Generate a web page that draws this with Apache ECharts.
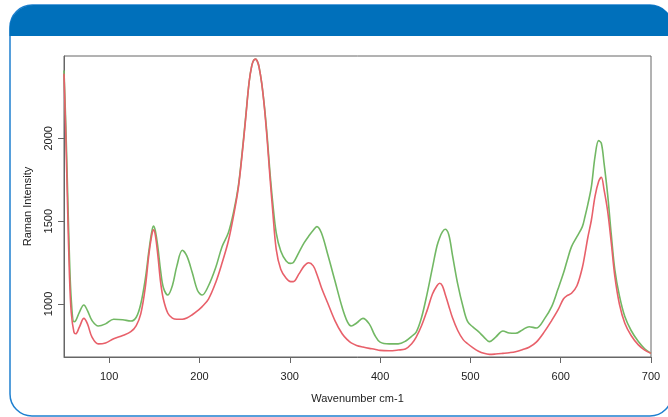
<!DOCTYPE html>
<html>
<head>
<meta charset="utf-8">
<script src="https://cdn.jsdelivr.net/npm/echarts@6/dist/echarts.min.js"></script>
<style>
html,body{margin:0;padding:0;background:#fff;}
#chart{width:668px;height:417px;}
</style>
</head>
<body>
<div id="chart"></div>
<script>
const wavenumber = [
  50,52,54,56,58,61,63,67,72,76,
  81,88,96,105,115,124,130,135,140,144,
  147,149,151,154,157,160,165,170,175,181,
  186,192,198,203,210,218,225,232,238,243,
  247,251,255,258,260,262,264,266,269,272,
  275,278,281,285,290,296,301,304,310,316,
  321,326,330,335,342,350,358,364,368,374,
  381,388,394,400,410,420,428,435,440,446,
  452,458,463,466,469,472,476,480,486,492,
  497,503,509,515,521,528,536,543,550,558,
  565,573,582,590,597,603,607,612,618,624,
  627,630,634,638,642,645,648,652,656,660,
  665,671,678,686,693,700
];
const greenIntensity = [
  2410,2080,1680,1290,1030,893,900,950,994,960,
  900,867,880,908,905,897,920,1000,1150,1320,
  1430,1471,1445,1340,1200,1100,1054,1110,1230,1324,
  1290,1190,1080,1054,1110,1220,1346,1430,1560,1710,
  1900,2120,2340,2440,2470,2478,2466,2430,2330,2190,
  2010,1800,1620,1430,1320,1260,1245,1250,1310,1370,
  1410,1445,1467,1430,1300,1140,980,890,867,885,
  913,880,813,770,759,759,775,805,830,920,
  1060,1220,1350,1400,1435,1451,1420,1300,1120,980,
  893,860,833,800,773,800,837,825,823,845,
  863,855,910,984,1090,1185,1260,1346,1406,1467,
  1530,1600,1708,1889,1986,1970,1850,1660,1420,1205,
  1050,924,840,773,730,702
];
const redIntensity = [
  2390,2020,1580,1180,950,830,820,860,913,880,
  800,759,765,790,810,833,870,940,1100,1300,
  1410,1448,1420,1290,1130,1030,944,915,908,908,
  915,935,960,984,1030,1130,1247,1380,1540,1700,
  1890,2110,2340,2440,2470,2478,2466,2430,2330,2180,
  1990,1770,1570,1330,1210,1155,1135,1135,1180,1230,
  1249,1230,1180,1100,1006,900,820,783,765,750,
  740,732,727,720,718,722,728,760,800,870,
  960,1060,1110,1125,1110,1060,990,920,840,785,
  760,735,715,702,696,698,702,706,712,725,
  739,770,833,900,964,1030,1050,1065,1110,1220,
  1306,1400,1507,1650,1740,1765,1690,1560,1370,1165,
  1000,884,810,753,722,702
];
const xTicks = [100,200,300,400,500,600,700];
const yTicks = [1000,1500,2000];

const pair = (ys) => wavenumber.map((x, i) => [x, ys[i]]);

const chart = echarts.init(document.getElementById('chart'), null, {renderer: 'canvas'});
const font = 'Liberation Sans, Arial, Helvetica, sans-serif';
chart.setOption({
  animation: false,
  backgroundColor: '#fff',
  graphic: [
    {
      type: 'rect', z: -10,
      shape: {x: 10, y: 5, width: 662, height: 411, r: 22},
      style: {fill: '#fff', stroke: '#1f80d0', lineWidth: 1.5}
    },
    {
      type: 'rect', z: -9,
      shape: {x: 9.5, y: 5, width: 663, height: 31, r: [24, 22, 0, 0]},
      style: {fill: '#0070bb'}
    }
  ],
  grid: {
    left: 64, right: 17, top: 56, bottom: 60,
    show: true, borderColor: '#666', borderWidth: 1, backgroundColor: 'transparent'
  },
  xAxis: {
    type: 'value', min: 50, max: 700,
    name: 'Wavenumber cm-1', nameLocation: 'middle', nameGap: 36,
    nameTextStyle: {fontFamily: font, fontSize: 11, color: '#222'},
    axisLine: {show: true, lineStyle: {color: '#666', width: 1}},
    axisTick: {show: true, customValues: xTicks, length: 6, lineStyle: {color: '#666'}},
    axisLabel: {customValues: xTicks, margin: 14, fontFamily: font, fontSize: 11, color: '#222',
      formatter: (v) => String(v)},
    splitLine: {show: false}
  },
  yAxis: {
    type: 'value', min: 680, max: 2497,
    name: 'Raman Intensity', nameLocation: 'middle', nameGap: 31,
    nameTextStyle: {fontFamily: font, fontSize: 11, color: '#222'},
    axisLine: {show: true, lineStyle: {color: '#666', width: 1}},
    axisTick: {show: true, customValues: yTicks, length: 6, lineStyle: {color: '#666'}},
    axisLabel: {customValues: yTicks, rotate: 90, margin: 10, fontFamily: font, fontSize: 11, color: '#222',
      formatter: (v) => String(v)},
    splitLine: {show: false}
  },
  series: [
    {
      type: 'line', name: 'green', data: pair(greenIntensity),
      showSymbol: false, smooth: 0.35,
      lineStyle: {color: '#72b864', width: 1.6}, itemStyle: {color: '#72b864'}
    },
    {
      type: 'line', name: 'red', data: pair(redIntensity),
      showSymbol: false, smooth: 0.35,
      lineStyle: {color: '#e8606a', width: 1.6}, itemStyle: {color: '#e8606a'}
    }
  ]
});
</script>
</body>
</html>
